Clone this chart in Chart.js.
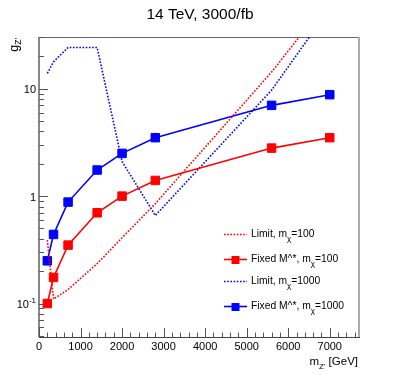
<!DOCTYPE html>
<html>
<head>
<style>
  body { margin: 0; background: #fff; }
</style>
</head>
<body>
<script src="https://cdn.jsdelivr.net/npm/chart.js@4.4.0/dist/chart.umd.min.js"></script>
<canvas id="chart" width="399" height="375"></canvas>
<script>
// Z' mass points [GeV]
const massPoints = [200, 350, 700, 1400, 2000, 2800, 5600, 7000];
// coupling values
const limit100 = [0.39, 0.11, 0.135, 0.235, 0.41, 0.85, 14.3, 69];
const fixed100 = [0.1, 0.175, 0.35, 0.70, 1.0, 1.4, 2.8, 3.5];
const limit1000 = [13.9, 17.8, 24.2, 24.2, 2.1, 0.66, 9.7, 56];
const fixed1000 = [0.25, 0.44, 0.88, 1.75, 2.5, 3.5, 7.0, 8.8];

const xTickLabels = [0, 1000, 2000, 3000, 4000, 5000, 6000, 7000];
const yTickLabels = [0.1, 1, 10];
const seriesNames = ["Limit, m", "Fixed M^*, m", "Limit, m", "Fixed M^*, m"];
const seriesMass = ["=100", "=100", "=1000", "=1000"];

const RED = "#ff0000";
const BLUE = "#0000ff";
const FONT = "'Liberation Sans', Arial, sans-serif";

function pts(ys) {
    return massPoints.map((x, i) => ({ x: x, y: ys[i] }));
}

function textRun(ctx, x, y, parts) {
    // parts: [text, size, dy]
    parts.forEach(p => {
        ctx.font = p[1] + "px " + FONT;
        ctx.fillText(p[0], x, y + p[2]);
        x += ctx.measureText(p[0]).width;
    });
    return x;
}

function runWidth(ctx, parts) {
    let w = 0;
    parts.forEach(p => {
        ctx.font = p[1] + "px " + FONT;
        w += ctx.measureText(p[0]).width;
    });
    return w;
}

const decorPlugin = {
    id: "decor",
    beforeDatasetsDraw(chart) {
        const ctx = chart.ctx;
        const a = chart.chartArea;
        const xs = chart.scales.x;
        const ys = chart.scales.y;
        ctx.save();
        // frame
        ctx.strokeStyle = "#666";
        ctx.lineWidth = 1;
        ctx.beginPath();
        ctx.moveTo(a.left, a.top + 0.5);
        ctx.lineTo(a.right, a.top + 0.5);
        ctx.stroke();
        ctx.strokeStyle = "#aaa";
        ctx.lineWidth = 2;
        ctx.beginPath();
        ctx.moveTo(a.right + 1, a.top);
        ctx.lineTo(a.right + 1, a.bottom);
        ctx.stroke();
        ctx.strokeStyle = "#888";
        ctx.lineWidth = 2;
        ctx.beginPath();
        ctx.moveTo(a.left, a.top);
        ctx.lineTo(a.left, a.bottom);
        ctx.stroke();
        ctx.strokeStyle = "#444";
        ctx.lineWidth = 1;
        ctx.beginPath();
        ctx.moveTo(a.left, a.bottom + 0.5);
        ctx.lineTo(a.right + 2, a.bottom + 0.5);
        ctx.stroke();

        // ticks, pointing inward
        ctx.strokeStyle = "#555";
        ctx.lineWidth = 1;
        ctx.beginPath();
        for (let v = 0; v <= xs.max; v += 200) {
            const px = Math.round(xs.getPixelForValue(v)) + 0.5;
            const len = v % 1000 === 0 ? 9 : 4.5;
            ctx.moveTo(px, a.bottom);
            ctx.lineTo(px, a.bottom - len);
        }
        for (let n = -2; n <= 1; n++) {
            for (let k = 1; k <= 9; k++) {
                const v = k * Math.pow(10, n);
                if (v < ys.min || v > ys.max) continue;
                const py = Math.round(ys.getPixelForValue(v)) + 0.5;
                const len = k === 1 ? 9 : 5;
                ctx.moveTo(a.left, py);
                ctx.lineTo(a.left + len, py);
            }
        }
        ctx.stroke();
        ctx.restore();
    },
    afterDatasetsDraw(chart) {
        const ctx = chart.ctx;
        const a = chart.chartArea;
        const xs = chart.scales.x;
        const ys = chart.scales.y;
        ctx.save();
        ctx.fillStyle = "#000";
        ctx.textBaseline = "alphabetic";

        // title
        ctx.font = "15.5px " + FONT;
        ctx.textAlign = "center";
        ctx.fillText("14 TeV, 3000/fb", 200, 19);

        // x tick labels
        ctx.font = "11px " + FONT;
        xTickLabels.forEach(v => {
            ctx.fillText(String(v), xs.getPixelForValue(v), 350);
        });

        // y tick labels
        ctx.textAlign = "left";
        yTickLabels.forEach(v => {
            const py = ys.getPixelForValue(v) + 4.5;
            let parts;
            if (v === 0.1) parts = [["10", 11, 0], ["-1", 8, -5]];
            else parts = [[String(v), 11, 0]];
            const w = runWidth(ctx, parts);
            textRun(ctx, 36 - w, py, parts);
        });

        // x title
        const xt = [["m", 11.5, 0], ["Z'", 8, 3.5], [" [GeV]", 11.5, 0]];
        textRun(ctx, a.right - runWidth(ctx, xt), 365, xt);

        // y title, rotated
        ctx.save();
        ctx.translate(18, 38);
        ctx.rotate(-Math.PI / 2);
        const yt = [["g", 12.5, 0], ["Z'", 8.5, 3]];
        textRun(ctx, -runWidth(ctx, yt), 0, yt);
        ctx.restore();

        // legend
        const rowsY = [234, 259, 281, 306];
        chart.data.datasets.forEach((ds, i) => {
            const y = rowsY[i];
            ctx.strokeStyle = ds.borderColor;
            ctx.lineWidth = ds.borderWidth;
            ctx.setLineDash(ds.borderDash || []);
            ctx.beginPath();
            ctx.moveTo(224, y + 0.5);
            ctx.lineTo(247, y + 0.5);
            ctx.stroke();
            ctx.setLineDash([]);
            if (ds.pointRadius > 0) {
                ctx.fillStyle = ds.borderColor;
                ctx.fillRect(231.5, y - 3, 8, 8);
            }
            ctx.fillStyle = "#000";
            textRun(ctx, 251, y + 3, [[seriesNames[i], 10.3, 0], ["\u03c7", 8, 4], [seriesMass[i], 10.3, 0]]);
        });
        ctx.restore();
    }
};

new Chart(document.getElementById("chart"), {
    type: "scatter",
    data: {
        datasets: [
            { label: "Limit, m\u03c7=100", data: pts(limit100), showLine: true, borderColor: RED, backgroundColor: RED,
              borderWidth: 1.6, borderDash: [1.6, 1.6], pointRadius: 0 },
            { label: "Fixed M^*, m\u03c7=100", data: pts(fixed100), showLine: true, borderColor: RED, backgroundColor: RED,
              borderWidth: 1.6, pointStyle: "rect", pointRadius: 6, pointBorderWidth: 1 },
            { label: "Limit, m\u03c7=1000", data: pts(limit1000), showLine: true, borderColor: BLUE, backgroundColor: BLUE,
              borderWidth: 1.6, borderDash: [1.6, 1.6], pointRadius: 0 },
            { label: "Fixed M^*, m\u03c7=1000", data: pts(fixed1000), showLine: true, borderColor: BLUE, backgroundColor: BLUE,
              borderWidth: 1.6, pointStyle: "rect", pointRadius: 6, pointBorderWidth: 1 }
        ]
    },
    options: {
        responsive: false,
        animation: false,
        devicePixelRatio: 1,
        layout: { padding: { left: 39, right: 41, top: 37, bottom: 38 } },
        plugins: { legend: { display: false }, tooltip: { enabled: false } },
        scales: {
            x: { type: "linear", min: 0, max: 7680, display: false },
            y: { type: "logarithmic", min: 0.0488, max: 30.3, display: false }
        }
    },
    plugins: [decorPlugin]
});
</script>
</body>
</html>
